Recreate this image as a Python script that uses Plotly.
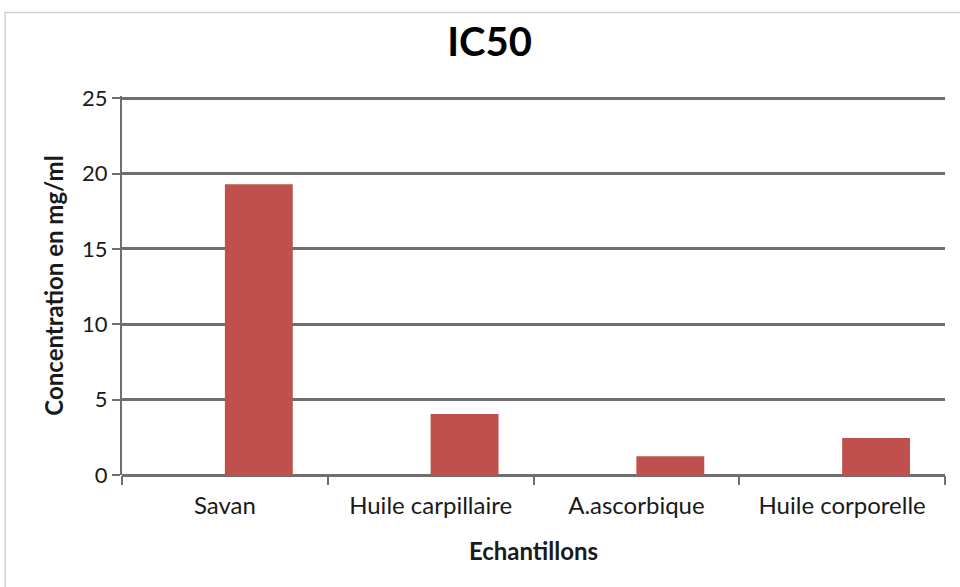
import plotly.graph_objects as go

# IC50 values per sample (mg/ml)
categories = ["Savan", "Huile carpillaire", "A.ascorbique", "Huile corporelle"]
ic50_values = [19.3, 4.05, 1.25, 2.45]
empty_series = [None, None, None, None]
y_ticks = [0, 5, 10, 15, 20, 25]

FONT = "Lato, 'Open Sans', sans-serif"
GRID = "#6f6f6f"
TEXT = "#1a1a1a"

fig = go.Figure()
# an empty first series keeps the bars in the right half of each category
fig.add_trace(go.Bar(x=categories, y=empty_series, marker_color="#C0504D",
                     showlegend=False, hoverinfo="skip"))
fig.add_trace(go.Bar(x=categories, y=ic50_values, marker_color="#C0504D",
                     marker_line_width=0, showlegend=False, name="IC50"))

fig.update_layout(
    width=960, height=587,
    margin=dict(l=122, r=15, t=96, b=112),
    paper_bgcolor="white", plot_bgcolor="white",
    barmode="group", bargap=0.34, bargroupgap=0,
    title=dict(text="<b>IC50</b>", x=0.51, xanchor="center", y=0.928, yanchor="middle",
               font=dict(family=FONT, size=40, color="black")),
    font=dict(family=FONT, color=TEXT),
)

fig.update_xaxes(
    type="category", tickson="boundaries", ticks="outside", ticklen=9, tickwidth=2,
    tickcolor=GRID, showline=False, showgrid=False, ticklabelstandoff=14,
    tickfont=dict(family=FONT, size=24, color=TEXT),
    title=dict(text="<b>Echantillons</b>", standoff=25,
               font=dict(family=FONT, size=24, color=TEXT)),
)
fig.update_yaxes(
    range=[0, 25.15], tickvals=y_ticks, ticks="outside", ticklen=8, tickwidth=2,
    tickcolor=GRID, showline=True, linecolor=GRID, linewidth=2,
    showgrid=True, gridcolor=GRID, gridwidth=2.5,
    zeroline=True, zerolinecolor=GRID, zerolinewidth=2.5,
    tickfont=dict(family=FONT, size=22, color=TEXT),
    title=dict(text="<b>Concentration en mg/ml</b>", standoff=12,
               font=dict(family=FONT, size=24, color=TEXT)),
)

# top gridline at the axis maximum
fig.add_hline(y=y_ticks[-1], line=dict(color=GRID, width=2.5), layer="below")

# light chart-area frame
fig.add_shape(type="rect", xref="paper", yref="paper",
              x0=-0.142, x1=1.06, y0=-0.36, y1=1.22,
              line=dict(color="#d0d0d0", width=1.5), fillcolor="rgba(0,0,0,0)",
              layer="below")

fig.write_html("out.html")
